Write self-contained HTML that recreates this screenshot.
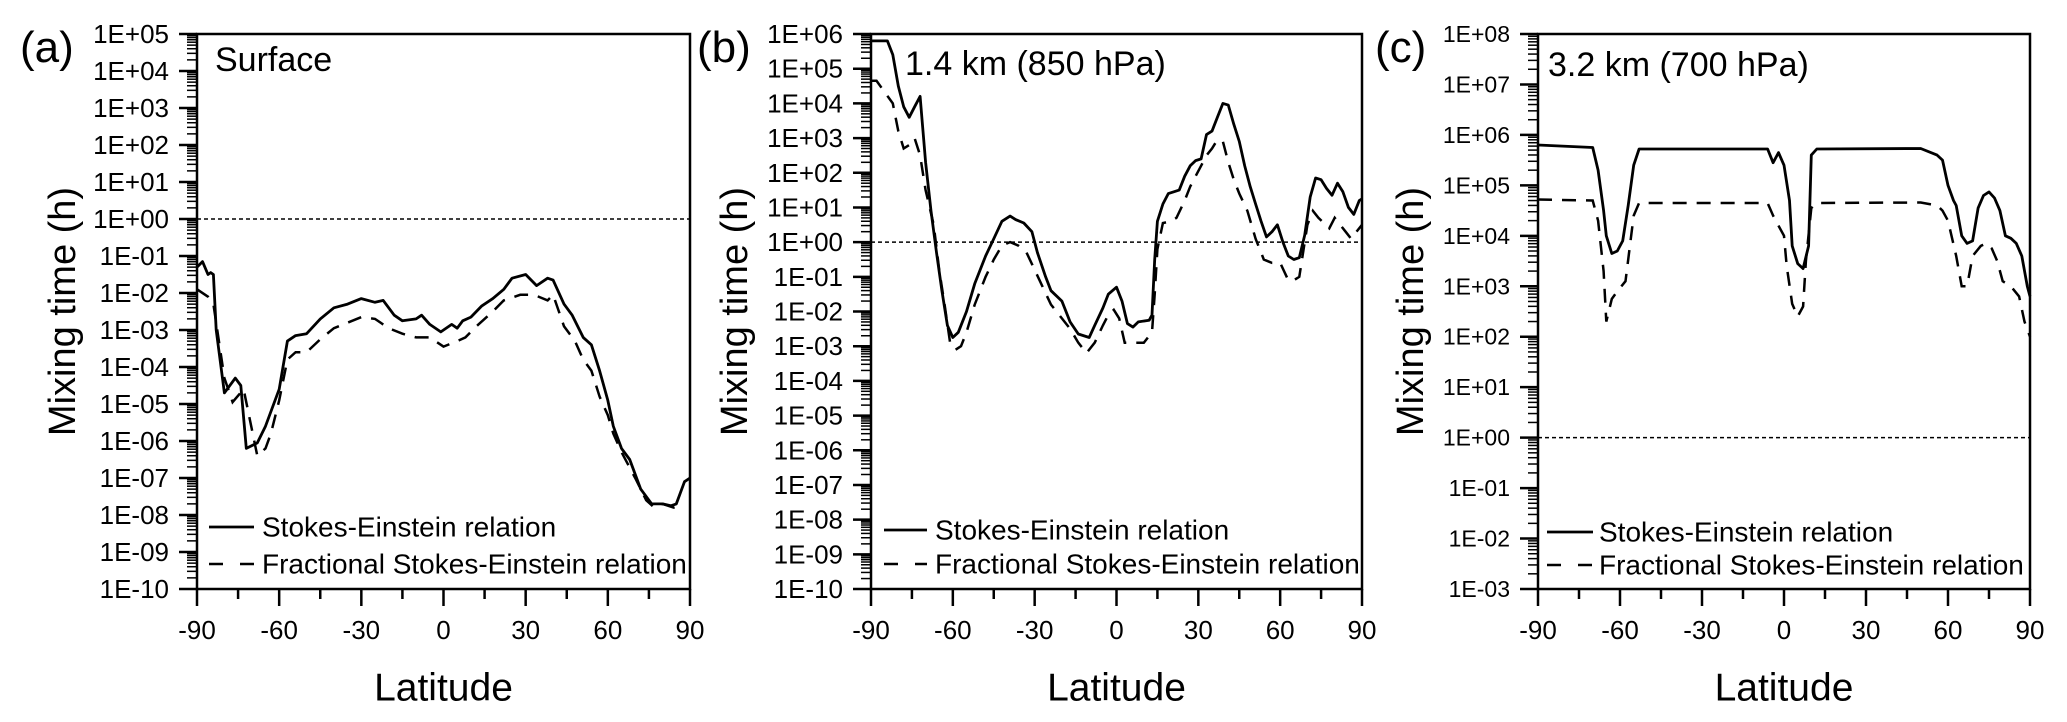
<!DOCTYPE html>
<html><head><meta charset="utf-8"><style>
html,body{margin:0;padding:0;background:#fff;}
svg{display:block;font-family:"Liberation Sans",Arial,sans-serif;}
</style></head><body>
<svg id="fig" width="2067" height="722" viewBox="0 0 2067 722"></svg>
<script>
// ---- data (log10 of mixing time in hours) ----
const latSolidA=[-90,-88,-86,-85,-84,-83,-80,-76,-74,-72,-68,-65,-60,-57,-54,-50,-45,-40,-35,-30,-25,-22,-18,-15,-10,-8,-5,-1,3,5,7,10,14,18,22,25,30,34,38,40,44,47,51,54,57,60,62,65,68,72,76,80,83,85,88,90];
const logSolidA=[-1.3,-1.15,-1.5,-1.45,-1.5,-3.0,-4.7,-4.3,-4.5,-6.2,-6.05,-5.6,-4.6,-3.3,-3.15,-3.1,-2.7,-2.4,-2.3,-2.15,-2.25,-2.2,-2.6,-2.75,-2.7,-2.6,-2.85,-3.05,-2.85,-2.95,-2.75,-2.65,-2.35,-2.15,-1.9,-1.6,-1.5,-1.8,-1.6,-1.65,-2.3,-2.6,-3.2,-3.4,-4.1,-4.9,-5.6,-6.2,-6.5,-7.3,-7.7,-7.7,-7.75,-7.7,-7.1,-7.0];
const latDashA=[-90,-86,-84,-82,-80,-77,-73,-68,-65,-63,-60,-57,-54,-50,-45,-40,-30,-25,-20,-15,-10,-5,0,5,8,12,18,22,28,33,38,40,44,48,51,54,57,60,62,65,70,74,77,80,84,86];
const logDashA=[-1.9,-2.1,-2.3,-3.3,-4.3,-4.95,-4.6,-6.4,-6.2,-5.8,-4.9,-3.8,-3.6,-3.6,-3.25,-2.95,-2.65,-2.7,-2.95,-3.1,-3.2,-3.2,-3.45,-3.3,-3.2,-2.9,-2.5,-2.2,-2.05,-2.05,-2.2,-2.05,-2.9,-3.3,-3.8,-4.1,-4.8,-5.3,-5.8,-6.3,-7.0,-7.6,-7.8,-7.7,-7.8,-7.75];

const latSolidB=[-90,-84,-82,-80,-78,-76,-74,-72,-70,-68,-66,-64,-62,-60,-58,-55,-52,-48,-45,-42,-39,-37,-34,-31,-29,-26,-24,-20,-17,-14,-10,-8,-5,-3,0,2,4,6,8,12,13,14,15,17,19,21,23,25,27,29,31,33,35,37,39,41,43,45,47,49,51,53,55,57,59,61,63,65,67,69,71,73,75,77,79,81,83,85,87,89,90];
const logSolidB=[5.8,5.8,5.4,4.5,3.9,3.6,3.9,4.2,2.3,0.9,-0.3,-1.4,-2.4,-2.75,-2.6,-2.0,-1.2,-0.4,0.1,0.6,0.75,0.65,0.55,0.3,-0.3,-1.0,-1.4,-1.7,-2.3,-2.65,-2.75,-2.4,-1.9,-1.5,-1.3,-1.7,-2.35,-2.45,-2.3,-2.25,-2.1,-0.5,0.6,1.1,1.4,1.45,1.5,1.9,2.2,2.35,2.4,3.1,3.2,3.6,4.0,3.95,3.4,2.9,2.2,1.6,1.1,0.6,0.15,0.3,0.5,0.0,-0.4,-0.5,-0.45,0.2,1.3,1.85,1.8,1.55,1.35,1.7,1.45,1.0,0.8,1.2,1.25];
const latDashB=[-90,-88,-82,-80,-78,-76,-74,-72,-70,-67,-65,-63,-61,-59,-57,-55,-52,-48,-45,-42,-39,-36,-33,-30,-27,-24,-20,-17,-14,-11,-8,-5,-3,-1,1,3,6,10,13,14,15,17,20,22,25,27,29,31,33,35,37,39,41,43,45,48,51,54,57,60,63,65,67,68,70,72,74,76,78,80,82,84,86,88,90];
const logDashB=[4.65,4.65,4.0,3.2,2.7,2.8,3.0,2.5,1.5,0.5,-0.8,-1.8,-2.9,-3.1,-3.0,-2.6,-1.8,-1.0,-0.5,-0.1,0.0,-0.1,-0.3,-0.8,-1.3,-1.8,-2.2,-2.5,-2.9,-3.2,-2.9,-2.4,-2.1,-1.95,-2.2,-2.9,-2.9,-2.9,-2.6,-1.5,-0.2,0.55,0.6,0.7,1.2,1.6,1.9,2.2,2.5,2.7,2.95,2.9,2.3,1.8,1.4,0.9,0.1,-0.5,-0.6,-0.6,-1.1,-1.1,-1.0,-0.5,0.5,0.9,0.7,0.55,0.4,0.7,0.5,0.3,0.1,0.3,0.5];

const latSolidC=[-90,-70,-68,-66,-65,-63,-61,-59,-57,-55,-53,-30,-6,-4,-2,0,2,3,5,7,9,10,12,50,56,58,60,62,63,65,67,69,71,73,75,77,79,81,83,85,87,89,90];
const logSolidC=[5.8,5.75,5.3,4.5,4.0,3.65,3.7,3.9,4.6,5.4,5.72,5.72,5.72,5.45,5.65,5.4,4.7,3.8,3.45,3.35,3.8,5.6,5.72,5.73,5.6,5.5,5.0,4.7,4.6,4.0,3.85,3.9,4.55,4.8,4.87,4.75,4.5,4.0,3.95,3.85,3.6,3.0,2.8];
const latDashC=[-90,-70,-68,-66,-65,-63,-61,-58,-55,-53,-6,-4,-2,0,1,3,5,7,8,10,12,50,56,58,60,63,65,67,69,72,74,76,78,80,83,86,88,90];
const logDashC=[4.72,4.7,4.3,3.3,2.3,2.75,2.9,3.1,4.4,4.65,4.65,4.4,4.2,4.0,3.4,2.65,2.4,2.6,3.5,4.55,4.65,4.66,4.6,4.5,4.3,3.6,3.0,3.0,3.6,3.8,3.85,3.75,3.5,3.1,3.0,2.8,2.3,2.0];

const xTicks=[-90,-60,-30,0,30,60,90];
const panelLetters=["(a)","(b)","(c)"];
const panelTitles=["Surface","1.4 km (850 hPa)","3.2 km (700 hPa)"];
const yMaxExp=[5,6,8];
const yMinExp=[-10,-10,-3];

const NS="http://www.w3.org/2000/svg";
const svg=document.getElementById('fig');
function mk(tag,attrs,parent){const e=document.createElementNS(NS,tag);for(const k in attrs)e.setAttribute(k,attrs[k]);(parent||svg).appendChild(e);return e;}
function fmt(e){return "1E"+(e<0?"-":"+")+String(Math.abs(e)).padStart(2,"0");}

const layout=[
 {x0:197,x1:690,y0:34,y1:589,tf:26,lx:20,ytx:63,tx:215,ty:71,leg:[209,254,262,527,564]},
 {x0:871,x1:1362,y0:34,y1:589,tf:26,lx:697,ytx:735,tx:905,ty:75,leg:[884,927,935,530,564]},
 {x0:1538,x1:2030,y0:34,y1:589,tf:23,lx:1375,ytx:1411,tx:1548,ty:76,leg:[1547,1593,1599,532,565]}
];
const series=[[latSolidA,logSolidA,latDashA,logDashA],[latSolidB,logSolidB,latDashB,logDashB],[latSolidC,logSolidC,latDashC,logDashC]];

layout.forEach((L,i)=>{
 const g=mk('g',{});
 
 
 const hi=yMaxExp[i],lo=yMinExp[i];
 const X=v=>L.x0+(v+90)/180*(L.x1-L.x0);
 const Y=v=>L.y0+(hi-v)/(hi-lo)*(L.y1-L.y0);
 // frame
 const fr=mk('rect',{x:L.x0,y:L.y0,width:L.x1-L.x0,height:L.y1-L.y0,fill:'none',stroke:'#000','stroke-width':2.5},g);
 
 
 // y ticks
 for(let e=lo;e<=hi;e++){
  const y=Y(e);
  const t=mk('line',{x1:L.x0-18,x2:L.x0,y1:y,y2:y,stroke:'#000','stroke-width':2.5},g);
  
  
  const lb=mk('text',{x:L.x0-28,y:y,'font-size':L.tf,'text-anchor':'end','dominant-baseline':'central'},g);
  lb.textContent=fmt(e);
  
  
  if(e<hi){for(let m=2;m<=9;m++){const ym=Y(e+Math.log10(m));
   const mt=mk('line',{x1:L.x0-10,x2:L.x0,y1:ym,y2:ym,stroke:'#000','stroke-width':1.5},g);
   
   }}
 }
 // x ticks
 for(let v=-90;v<=90;v+=15){
  const x=X(v);const major=(v%30===0);
  const t=mk('line',{x1:x,x2:x,y1:L.y1,y2:L.y1+(major?17:10),stroke:'#000','stroke-width':2.5},g);
  
  
 }
 xTicks.forEach(v=>{
  const lb=mk('text',{x:X(v),y:L.y1+41,'font-size':26,'text-anchor':'middle','dominant-baseline':'central'},g);
  lb.textContent=String(v);
  
  
 });
 // axis titles
 const xt=mk('text',{x:(L.x0+L.x1)/2,y:L.y1+99,'font-size':39,'text-anchor':'middle','dominant-baseline':'central'},g);
 xt.textContent='Latitude';
 
 
 const yc=(L.y0+L.y1)/2;
 const yt=mk('text',{x:L.ytx,y:yc,'font-size':38,'text-anchor':'middle','dominant-baseline':'central',transform:`rotate(-90 ${L.ytx} ${yc})`},g);
 yt.textContent='Mixing time (h)';
 
 
 // letter & title
 const pl=mk('text',{x:L.lx,y:62,'font-size':44},g);
 pl.textContent=panelLetters[i];
 
 
 const pt=mk('text',{x:L.tx,y:L.ty,'font-size':34},g);
 pt.textContent=panelTitles[i];
 
 
 // reference line at 1E+00
 const rl=mk('line',{x1:L.x0,x2:L.x1,y1:Y(0),y2:Y(0),stroke:'#000','stroke-width':1.5,'stroke-dasharray':'4 3'},g);
 
 
 // series
 const s=series[i];
 const ptsS=s[0].map((v,k)=>X(v).toFixed(1)+','+Y(s[1][k]).toFixed(1)).join(' ');
 const ptsD=s[2].map((v,k)=>X(v).toFixed(1)+','+Y(s[3][k]).toFixed(1)).join(' ');
 const ls=mk('polyline',{points:ptsS,fill:'none',stroke:'#000','stroke-width':2.8,'stroke-linejoin':'round'},g);
 
 
 const ld=mk('polyline',{points:ptsD,fill:'none',stroke:'#000','stroke-width':2.5,'stroke-dasharray':'14 10'},g);
 
 
 // legend
 const [a,b,tx,r1,r2]=L.leg;
 const l1=mk('line',{x1:a,x2:b,y1:r1,y2:r1,stroke:'#000','stroke-width':2.8},g);
 
 
 const t1=mk('text',{x:tx,y:r1,'font-size':28,'dominant-baseline':'central'},g);
 t1.textContent='Stokes-Einstein relation';
 
 
 const l2=mk('line',{x1:a,x2:b,y1:r2,y2:r2,stroke:'#000','stroke-width':2.5,'stroke-dasharray':'14 17'},g);
 
 
 const t2=mk('text',{x:tx,y:r2,'font-size':28,'dominant-baseline':'central'},g);
 t2.textContent='Fractional Stokes-Einstein relation';
 
 
});
</script>
</body></html>
